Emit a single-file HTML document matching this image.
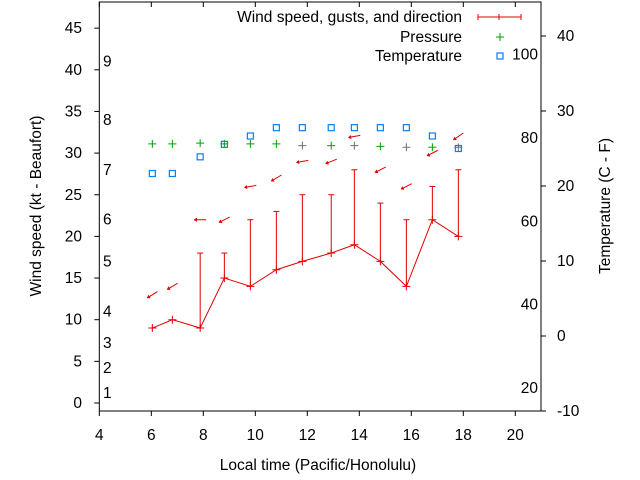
<!DOCTYPE html>
<html><head><meta charset="utf-8"><style>
body{margin:0;background:#fff}
svg{display:block;font-family:"Liberation Sans",sans-serif;font-size:15.5px}
</style></head><body>
<svg id="c" width="640" height="480">
<rect width="640" height="480" fill="#fff"/>
<g id="axes"></g><g id="marks"></g>
</svg>
<script>
const times=[6.04,6.81,7.88,8.81,9.81,10.81,11.81,12.92,13.81,14.81,15.81,16.81,17.81];
const windKt=[9,10,9,15,14,16,17,18,19,17,14,22,20];
const gustKt=[null,null,18,18,22,23,25,25,28,24,22,26,28];
const arrowLevel=[13,14,22,22,26,27,29,29,32,28,26,30,32];
const windDirFrom=[58,59,90,63,80,59,80,68,80,63,63,63,55];
const pressureLevel=[31.1,31.1,31.2,31.1,31.1,31.1,30.9,30.9,30.9,30.8,30.7,30.7,30.7];
const tempF=[71,71,75,78,80,82,82,82,82,82,82,80,77];
const xTicks=[4,6,8,10,12,14,16,18,20];
const yTicks=[0,5,10,15,20,25,30,35,40,45];
const beaufort=[1,2,3,4,5,6,7,8,9];
const beaufortLevel=[1.2,4.2,7.2,11,17,22,28,34,41];
const cTicks=[-10,0,10,20,30,40];
const fTicks=[20,40,60,80,100];

const L=99.3,R=541,T=2,B=411;
const X=t=>L+(t-4)*26;
const Y=v=>403-v*8.33;
const YC=c=>336-c*7.5;
const YF=f=>YC((f-32)/1.8);
const NS='http://www.w3.org/2000/svg';
function mk(p,tag,a,txt){const e=document.createElementNS(NS,tag);for(const k in a)e.setAttribute(k,a[k]);if(txt!=null)e.textContent=txt;p.appendChild(e);return e;}
const ax=document.getElementById('axes'),mg=document.getElementById('marks');

let e=mk(ax,'rect',{x:L,y:T,width:R-L,height:B-T,fill:'none',stroke:'#000','stroke-width':1});

xTicks.forEach(t=>{
 mk(ax,'line',{x1:X(t),x2:X(t),y1:B,y2:B+5,stroke:'#000'});
 mk(ax,'line',{x1:X(t),x2:X(t),y1:T,y2:T+5,stroke:'#000'});
 e=mk(ax,'text',{x:X(t),y:440,'text-anchor':'middle'},t);
 
});
yTicks.forEach(v=>{
 mk(ax,'line',{x1:L-5,x2:L,y1:Y(v),y2:Y(v),stroke:'#000'});
 e=mk(ax,'text',{x:82,y:Y(v)+5,'text-anchor':'end'},v);
 
});
beaufort.forEach((b,i)=>{
 e=mk(ax,'text',{x:103,y:Y(beaufortLevel[i])+5},b);
 
});
cTicks.forEach(c=>{
 mk(ax,'line',{x1:R,x2:R+5,y1:YC(c),y2:YC(c),stroke:'#000'});
 e=mk(ax,'text',{x:557,y:YC(c)+5},c);
 
});
fTicks.forEach(f=>{
 e=mk(ax,'text',{x:538,y:YF(f)+7,'text-anchor':'end'},f);
 
});
e=mk(ax,'text',{x:318,y:470,'text-anchor':'middle'},'Local time (Pacific/Honolulu)');

e=mk(ax,'text',{x:0,y:0,'text-anchor':'middle',transform:'translate(41,206) rotate(-90)'},'Wind speed (kt - Beaufort)');

e=mk(ax,'text',{x:0,y:0,'text-anchor':'middle',transform:'translate(610,206) rotate(-90)'},'Temperature (C - F)');


times.forEach((t,i)=>{
 if(gustKt[i]==null)return;
 const g=mk(mg,'g',{stroke:'#e00000','stroke-width':1});
 
 mk(g,'line',{x1:X(t),x2:X(t),y1:Y(windKt[i]),y2:Y(gustKt[i])});
 mk(g,'line',{x1:X(t)-3,x2:X(t)+3,y1:Y(gustKt[i]),y2:Y(gustKt[i])});
});
e=mk(mg,'polyline',{points:times.map((t,i)=>X(t)+','+Y(windKt[i])).join(' '),fill:'none',stroke:'#e00000'});

times.forEach((t,i)=>{
 e=mk(mg,'path',{d:`M${X(t)-4},${Y(windKt[i])}h8M${X(t)},${Y(windKt[i])-4}v8`,stroke:'#e00000'});
 
});
times.forEach((t,i)=>{
 const to=(windDirFrom[i]+180)*Math.PI/180;
 const dx=Math.sin(to),dy=-Math.cos(to);
 const cx=X(t),cy=Y(arrowLevel[i]);
 const hx=cx+dx*6,hy=cy+dy*6,tx=cx-dx*6,ty=cy-dy*6;
 const a1=Math.atan2(dy,dx);
 const g=mk(mg,'g',{stroke:'#e00000',fill:'#e00000','stroke-width':1});
 
 mk(g,'line',{x1:tx,y1:ty,x2:hx,y2:hy});
 mk(g,'polygon',{points:`${hx},${hy} ${hx-3*Math.cos(a1-0.6)},${hy-3*Math.sin(a1-0.6)} ${hx-3*Math.cos(a1+0.6)},${hy-3*Math.sin(a1+0.6)}`,'stroke-width':0.5});
});
times.forEach((t,i)=>{
 e=mk(mg,'path',{d:`M${X(t)-4},${Y(pressureLevel[i])}h8M${X(t)},${Y(pressureLevel[i])-4}v8`,stroke:i>=6&&i%2==0?'#707070':'#00a000'});
 
});
times.forEach((t,i)=>{
 e=mk(mg,'rect',{x:X(t)-3,y:YF(tempF[i])-3,width:6,height:6,fill:'none',stroke:'#0080ff','stroke-width':1.2});
 
});
const lg=mk(mg,'g',{});

e=mk(lg,'text',{x:462,y:22,'text-anchor':'end'},'Wind speed, gusts, and direction');

mk(lg,'path',{d:'M478,17H521M478,14v6M521,14v6M499,14v6',stroke:'#e00000'});
e=mk(lg,'text',{x:462,y:42,'text-anchor':'end'},'Pressure');

mk(lg,'path',{d:'M496,37h8M500,33v8',stroke:'#00a000'});
e=mk(lg,'text',{x:462,y:61,'text-anchor':'end'},'Temperature');

mk(lg,'rect',{x:497,y:53,width:6,height:6,fill:'none',stroke:'#0080ff','stroke-width':1.2});
</script>
</body></html>
